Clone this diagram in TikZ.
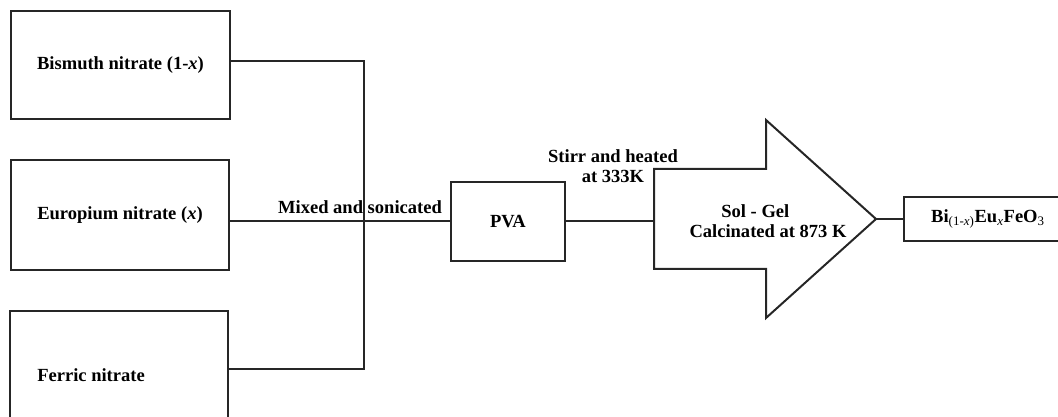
\documentclass[tikz,border=0pt]{standalone}
\usepackage{fontspec}
\setmainfont{Liberation Serif}
\begin{document}
\begin{tikzpicture}[x=0.75pt,y=-0.75pt,
  line/.style={draw=black!85,line width=1.5pt},
  box/.style={line,rectangle,inner sep=0pt,font=\fontsize{13.9}{15}\selectfont\bfseries},
  lbl/.style={inner sep=0pt,align=center,font=\fontsize{13.9}{15.5}\selectfont\bfseries}]
\useasboundingbox (0,0) rectangle (1058,417);
\clip (0,0) rectangle (1058,417);
% source boxes
\node[box,minimum width=219*0.75pt,minimum height=108*0.75pt] (b1) at (120.5,65) {Bismuth nitrate (1-\textit{x})};
\node[box,minimum width=218*0.75pt,minimum height=110*0.75pt] (b2) at (120,215) {Europium nitrate (\textit{x})};
\node[box,minimum width=218*0.75pt,minimum height=116*0.75pt] (b3) at (119,369) {};
\node[lbl,anchor=west] (t3) at (37,375) {Ferric nitrate};
% PVA
\node[box,minimum width=114*0.75pt,minimum height=79*0.75pt] (pva) at (508,221.5) {PVA};
% product box
\node[box,minimum width=168*0.75pt,minimum height=44*0.75pt,anchor=west] (prod) at (903,219)
  {Bi\textsubscript{\mdseries(1-\textit{x})}Eu\textsubscript{\mdseries\textit{x}}FeO\textsubscript{\mdseries 3}};
% big arrow
\coordinate (al) at (654,219);
\coordinate (tip) at (876,219);
\draw[line,line join=miter] (654,169) -- (766,169) -- (766,120) -- (tip) -- (766,318) -- (766,269) -- (654,269) -- cycle;
\node[lbl] (sg) at (768,221) {Sol - Gel\kern 19pt\\Calcinated at 873 K};
% connectors
\coordinate (j) at (364,0);
\draw[line] ([yshift=3pt]b1.east) -| (b3.east -| j) -- (b3.east);
\draw[line] (pva.west -| b2.east) -- (pva.west);
\draw[line] (pva.east) -- (pva.east -| al);
\draw[line] (tip) -- (prod.west);
% labels
\node[lbl] (mix) at (360,207) {Mixed and sonicated};
\node[lbl] (stir) at (613,166) {Stirr and heated\\at 333K};
\end{tikzpicture}
\end{document}
